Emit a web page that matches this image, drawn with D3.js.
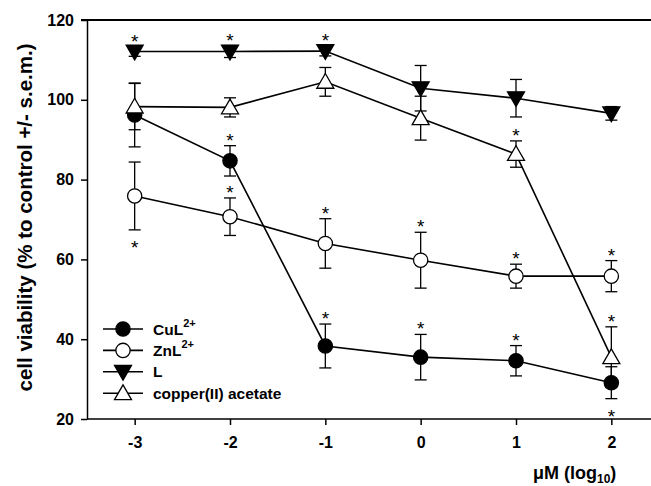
<!DOCTYPE html>
<html>
<head>
<meta charset="utf-8">
<script src="https://cdn.jsdelivr.net/npm/d3@7"></script>
<style>
  body { margin: 0; background: #fff; }
  text { font-family: "Liberation Sans", Arial, sans-serif; font-weight: bold; }
</style>
</head>
<body>
<div id="chart"></div>
<script>
const doses = [-3, -2, -1, 0, 1, 2];
const yTicks = [20, 40, 60, 80, 100, 120];

const culMean = [96.2, 84.7, 38.3, 35.5, 34.6, 29.1];
const culErr  = [8.0, 3.8, 5.5, 5.7, 3.8, 4.0];
const culStar = [null, 'up', 'up', 'up', 'up', 'down'];

const znlMean = [75.9, 70.7, 64.0, 59.8, 55.8, 55.8];
const znlErr  = [8.5, 4.7, 6.2, 7.0, 3.0, 3.9];
const znlStar = ['down', 'up', 'up', 'up', 'up', 'up'];

const lMean = [112.1, 112.1, 112.2, 102.9, 100.4, 96.6];
const lErr  = [1.2, 1.5, 1.2, 5.7, 4.7, 1.7];
const lStar = ['up', 'up', 'up', null, null, null];

const cuacMean = [98.3, 98.1, 104.5, 95.4, 86.4, 35.5];
const cuacErr  = [5.8, 2.4, 3.6, 5.5, 3.3, 7.6];
const cuacStar = [null, null, null, null, 'up', 'up'];

const series = [
  { name: 'CuL', sup: '2+', mean: culMean, err: culErr, star: culStar, shape: 'circle', fill: '#000' },
  { name: 'ZnL', sup: '2+', mean: znlMean, err: znlErr, star: znlStar, shape: 'circle', fill: '#fff' },
  { name: 'L', sup: '', mean: lMean, err: lErr, star: lStar, shape: 'down', fill: '#000' },
  { name: 'copper(II) acetate', sup: '', mean: cuacMean, err: cuacErr, star: cuacStar, shape: 'up', fill: '#fff' }
];

const W = 651, H = 486;
const svg = d3.select('#chart').append('svg').attr('width', W).attr('height', H);

const x = d3.scaleLinear().domain([-3.5, 2.5]).range([87, 659]);
const y = d3.scaleLinear().domain([20, 120]).range([419, 20]);

// top frame, runs off the right edge like the bottom axis
svg.append('rect')
  .attr('x', x(-3.5) - 6).attr('y', y(120) - 1)
  .attr('width', W - x(-3.5) + 6).attr('height', 2)
  .attr('fill', '#000');

const xAxis = svg.append('g').attr('transform', `translate(0,${y(20)})`)
  .call(d3.axisBottom(x).tickValues(doses).tickSize(6).tickSizeOuter(0).tickPadding(12).tickFormat(d => String(d)));
const yAxis = svg.append('g').attr('transform', `translate(${x(-3.5)},0)`)
  .call(d3.axisLeft(y).tickValues(yTicks).tickSize(6).tickSizeOuter(0).tickPadding(7));
[xAxis, yAxis].forEach(g => {
  g.select('.domain').attr('stroke-width', 1.5);
  g.selectAll('.tick line').attr('stroke-width', 1.5);
  g.selectAll('.tick text').attr('font-size', 16).attr('fill', '#000')
    .style('font-family', '"Liberation Sans", Arial, sans-serif').style('font-weight', 'bold');
});
xAxis.select('.domain').attr('d', `M${x(-3.5)},0H${W}`);

const sym = {
  circle: d3.symbol().type(d3.symbolCircle).size(160),
  up: d3.symbol().type(d3.symbolTriangle).size(125)
};

function marker(g, shape, fill) {
  const p = g.append('path')
    .attr('fill', fill).attr('stroke', '#000').attr('stroke-width', 1.3);
  if (shape === 'circle') p.attr('d', sym.circle());
  else if (shape === 'up') p.attr('d', sym.up()).attr('transform', 'translate(0,1.5)');
  else p.attr('d', sym.up()).attr('transform', 'translate(0,-1.5) rotate(180)');
  return p;
}

const line = d3.line().x((d, i) => x(doses[i])).y(d => y(d));

// error bars and stars
series.forEach(s => {
  const g = svg.append('g');
  s.mean.forEach((m, i) => {
    const cx = x(doses[i]);
    const top = y(m + s.err[i]), bot = y(m - s.err[i]);
    g.append('line').attr('x1', cx).attr('x2', cx).attr('y1', top).attr('y2', bot)
      .attr('stroke', '#000').attr('stroke-width', 1.3);
    [top, bot].forEach(yy => g.append('line').attr('x1', cx - 6).attr('x2', cx + 6)
      .attr('y1', yy).attr('y2', yy).attr('stroke', '#000').attr('stroke-width', 1.3));
    if (s.star[i]) {
      const sy = s.star[i] === 'up' ? top + 1 : bot + 24;
      g.append('text').attr('x', cx).attr('y', sy).attr('text-anchor', 'middle')
        .attr('font-size', 19).style('font-weight', 'normal').text('*');
    }
  });
});

series.forEach(s => {
  svg.append('path').datum(s.mean).attr('d', line)
    .attr('fill', 'none').attr('stroke', '#000').attr('stroke-width', 1.6);
});

series.forEach(s => {
  s.mean.forEach((m, i) => {
    const g = svg.append('g').attr('transform', `translate(${x(doses[i])},${y(m)})`);
    marker(g, s.shape, s.fill);
  });
});

// legend
const leg = svg.append('g').attr('transform', 'translate(103,329)');
series.forEach((s, i) => {
  const row = leg.append('g').attr('transform', `translate(0,${i * 21.4})`);
  row.append('line').attr('x1', 0).attr('x2', 40).attr('stroke', '#000').attr('stroke-width', 1.6);
  marker(row.append('g').attr('transform', 'translate(20,0)'), s.shape, s.fill);
  const t = row.append('text').attr('x', 50).attr('y', 5.5).attr('font-size', 15.5).text(s.name);
  if (s.sup) t.append('tspan').attr('dy', -8).attr('font-size', 11).text(s.sup);
});

// axis titles
svg.append('text').attr('transform', `translate(32,217.5) rotate(-90)`)
  .attr('text-anchor', 'middle').attr('font-size', 20.5)
  .text('cell viability (% to control +/- s.e.m.)');

const xt = svg.append('text').attr('x', 533).attr('y', 479).attr('font-size', 18).text('\u03bcM (log');
xt.append('tspan').attr('dy', 4).attr('font-size', 12).text('10');
xt.append('tspan').attr('dy', -4).text(')');
</script>
</body>
</html>
